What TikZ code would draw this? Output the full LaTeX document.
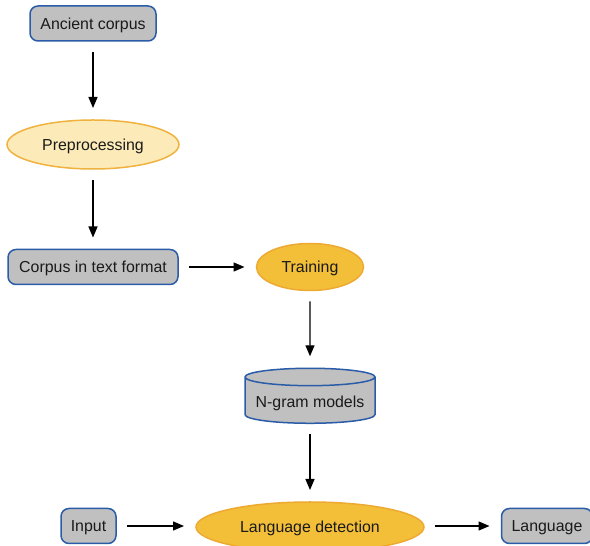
\documentclass[tikz,border=0pt]{standalone}
\usepackage{fontspec}
\setmainfont{Liberation Sans}
\usetikzlibrary{shapes.geometric,arrows.meta}
\definecolor{boxfill}{HTML}{C0C0C0}
\definecolor{boxline}{HTML}{2B5CA8}
\definecolor{lightfill}{HTML}{FCEBB8}
\definecolor{lightline}{HTML}{F0B23E}
\definecolor{darkfill}{HTML}{F3BF39}
\definecolor{darkline}{HTML}{EDA932}
\definecolor{txt}{HTML}{1A1A1A}
\tikzset{
  base/.style={font=\fontsize{15.9}{19}\selectfont, text=txt, line width=1.5pt, inner sep=0pt, outer sep=0pt, text height=13.6pt, text depth=2pt},
  gbox/.style={base, rectangle, rounded corners=8pt, draw=boxline, fill=boxfill, minimum height=35pt},
  lell/.style={base, ellipse, draw=lightline, fill=lightfill},
  dell/.style={base, ellipse, draw=darkline, fill=darkfill},
  cyl/.style={base, cylinder, shape border rotate=90, aspect=0.16, draw=boxline, fill=boxfill},
  arr/.style={-{Triangle[length=11pt,width=9pt]}, line width=1.4pt, black, shorten >=12pt, shorten <=11pt}
}
\begin{document}
\begin{tikzpicture}[x=1pt,y=1pt]
\useasboundingbox (0,0) rectangle (590,546);
\node[gbox, minimum width=126pt] (anc) at (93,522.5) {Ancient corpus};
\node[lell, minimum width=172pt, minimum height=49pt] (pre) at (93,401.5) {Preprocessing};
\node[gbox, minimum width=170pt] (ctf) at (93,279) {Corpus in text format};
\node[dell, minimum width=107pt, minimum height=47pt] (tra) at (310,279) {Training};
\node[cyl, minimum width=130pt, minimum height=55pt] (ngm) at (310,145.5) {\raisebox{-1pt}{N-gram models}};
\node[dell, minimum width=228pt, minimum height=50pt] (det) at (310,19) {Language detection};
\node[gbox, minimum width=55pt] (inp) at (88.5,20) {Input};
\node[gbox, minimum width=91pt] (lang) at (547,20) {Language};
\draw[arr] (anc) -- (pre);
\draw[arr] (pre) -- (ctf);
\draw[arr] (ctf) -- (tra);
\draw[arr] (tra) -- (ngm);
\draw[arr] (ngm) -- (det);
\draw[arr] (inp) -- (inp -| det.west);
\draw[arr] (det.east |- lang) -- (lang);
\end{tikzpicture}
\end{document}
